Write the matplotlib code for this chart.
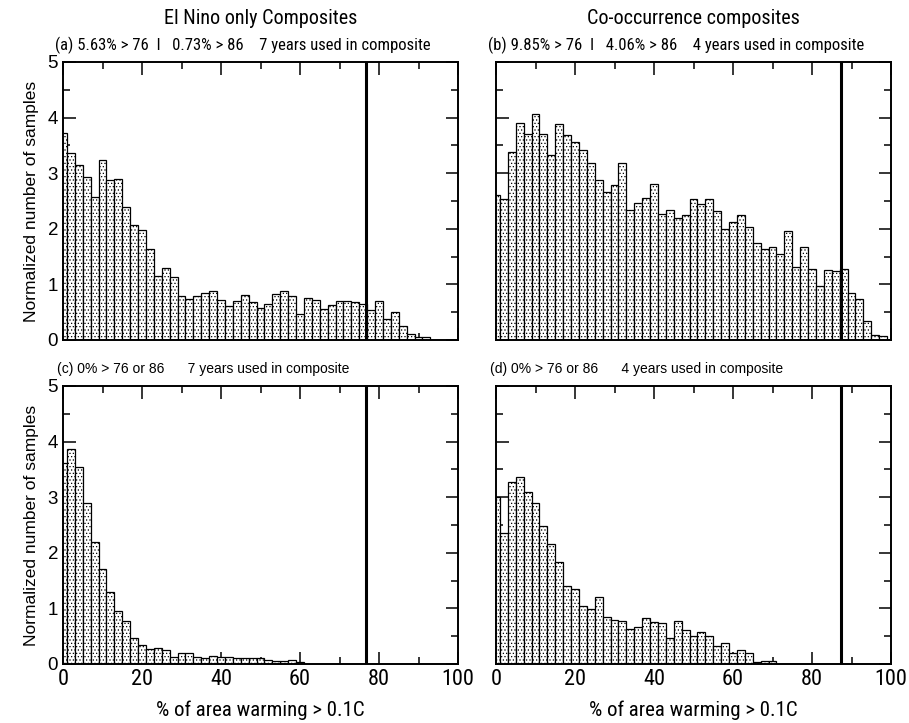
import numpy as np
import matplotlib
matplotlib.use("Agg")
import matplotlib.pyplot as plt
from matplotlib.ticker import MultipleLocator

# bin centres (% of area), bins 2 wide
centres = np.arange(0, 101, 2)

# (a) El Nino only, top
vals_a = [3.73, 3.36, 3.14, 2.94, 2.58, 3.23, 2.88, 2.89, 2.39, 2.06,
          1.97, 1.64, 1.16, 1.30, 1.14, 0.80, 0.74, 0.80, 0.85, 0.88,
          0.72, 0.62, 0.71, 0.81, 0.68, 0.57, 0.64, 0.82, 0.89, 0.79,
          0.46, 0.75, 0.72, 0.56, 0.63, 0.71, 0.70, 0.69, 0.65, 0.54,
          0.70, 0.37, 0.50, 0.25, 0.11, 0.05, 0.05, 0.0, 0.0, 0.0, 0.0]
# (b) co-occurrence, top
vals_b = [2.60, 2.54, 3.38, 3.90, 3.71, 4.06, 3.70, 3.32, 3.89, 3.69,
          3.56, 3.42, 3.19, 2.87, 2.67, 2.78, 3.18, 2.33, 2.47, 2.55,
          2.81, 2.27, 2.34, 2.19, 2.25, 2.54, 2.45, 2.54, 2.32, 1.99,
          2.13, 2.25, 2.03, 1.74, 1.64, 1.68, 1.55, 1.96, 1.31, 1.68,
          1.28, 0.98, 1.26, 1.24, 1.28, 0.85, 0.73, 0.34, 0.09, 0.07, 0.0]
# (c) El Nino only, bottom
vals_c = [3.62, 3.87, 3.54, 2.89, 2.19, 1.71, 1.30, 0.95, 0.78, 0.47,
          0.34, 0.27, 0.28, 0.26, 0.13, 0.19, 0.19, 0.12, 0.10, 0.15,
          0.13, 0.13, 0.10, 0.11, 0.11, 0.10, 0.07, 0.06, 0.05, 0.07,
          0.04] + [0.0] * 20
# (d) co-occurrence, bottom
vals_d = [3.00, 2.35, 3.27, 3.37, 3.09, 2.90, 2.48, 2.16, 1.84, 1.41,
          1.35, 1.05, 0.99, 1.20, 0.84, 0.80, 0.78, 0.63, 0.66, 0.82,
          0.75, 0.73, 0.47, 0.78, 0.62, 0.51, 0.57, 0.51, 0.33, 0.38,
          0.19, 0.25, 0.19, 0.04, 0.06, 0.06] + [0.0] * 15

vline_left = 76.7
vline_right = 87.3

col_titles = ["El Nino only Composites", "Co-occurrence composites"]
panel_texts = [
    "(a) 5.63% > 76  I   0.73% > 86    7 years used in composite",
    "(b) 9.85% > 76  I   4.06% > 86    4 years used in composite",
    "(c) 0% > 76 or 86      7 years used in composite",
    "(d) 0% > 76 or 86      4 years used in composite",
]
xlab = "% of area warming > 0.1C"
ylab = "Normalized number of samples"

narrow = ['Roboto Condensed', 'Archivo Narrow', 'DejaVu Sans']
wide = ['Liberation Sans', 'DejaVu Sans']
plt.rcParams['hatch.linewidth'] = 0.5
plt.rcParams['font.family'] = wide

fig = plt.figure(figsize=(9.09, 7.23), dpi=100)

W, H = 909.0, 723.0
lefts = [63 / W, 496 / W]
width = 395 / W
bottoms = [1 - 340 / H, 1 - 664 / H]
height = 278 / H

data = [[vals_a, vals_b], [vals_c, vals_d]]
vlines = [vline_left, vline_right]

k = 0
for r in range(2):
    for c in range(2):
        ax = fig.add_axes([lefts[c], bottoms[r], width, height])
        ax.bar(centres, data[r][c], width=2, align='center', facecolor='white',
               edgecolor='black', linewidth=0.9, hatch='.....', zorder=2)
        ax.axvline(vlines[c], color='black', linewidth=2.2, zorder=3)
        ax.set_xlim(0, 100)
        ax.set_ylim(0, 5)
        ax.xaxis.set_major_locator(MultipleLocator(20))
        ax.xaxis.set_minor_locator(MultipleLocator(10))
        ax.yaxis.set_major_locator(MultipleLocator(1))
        ax.yaxis.set_minor_locator(MultipleLocator(0.5))
        ax.tick_params(which='both', direction='in', top=True, right=True, width=1.1)
        ax.tick_params(which='major', length=9)
        ax.tick_params(which='minor', length=5)
        for s in ax.spines.values():
            s.set_linewidth(1.4)
        if c == 0:
            ax.set_ylabel(ylab, fontsize=12.5, family=wide, labelpad=6)
            for t in ax.get_yticklabels():
                t.set_fontsize(13.5)
        else:
            ax.set_yticklabels([])
        if r == 1:
            ax.set_xlabel(xlab, fontsize=15, family=narrow, labelpad=8)
            for t in ax.get_xticklabels():
                t.set_fontsize(16)
                t.set_family(narrow)
        else:
            ax.set_xticklabels([])
        if r == 0:
            ax.set_title(col_titles[c], fontsize=14.5, family=narrow, pad=27)
            ax.text(-0.02, 1.03, panel_texts[k], transform=ax.transAxes,
                    fontsize=12, family=narrow, ha='left', va='bottom')
        else:
            ax.text(-0.015, 1.035, panel_texts[k], transform=ax.transAxes,
                    fontsize=10, family=wide, ha='left', va='bottom')
        k += 1

fig.savefig("out.png", dpi=100)
